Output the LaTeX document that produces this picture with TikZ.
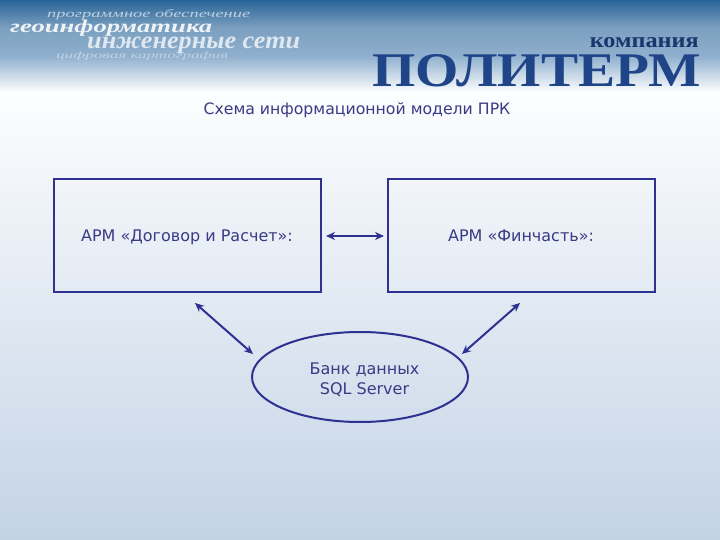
\documentclass[tikz,border=0pt]{standalone}
\usepackage{fontspec}
\usepackage{graphicx}
\setmainfont{DejaVu Sans}
\newfontfamily\logoserif{Liberation Serif}
\usetikzlibrary{arrows.meta,shapes.geometric}
\definecolor{ink}{HTML}{2E3192}
\definecolor{txt}{HTML}{3A3A85}
\definecolor{logo}{HTML}{1F4488}
\definecolor{bluetop}{HTML}{2A6599}
\definecolor{bluemid}{HTML}{8FB0CE}
\definecolor{paleend}{HTML}{C3D3E6}
\tikzset{
  boxx/.style={draw=ink,line width=2pt,minimum width=267pt,minimum height=113pt,inner sep=0pt},
  oval/.style={ellipse,draw=ink,line width=2pt,minimum width=216pt,minimum height=90pt,inner sep=0pt},
  lab/.style={text=txt,font=\fontsize{16pt}{19pt}\selectfont,inner sep=0pt,anchor=base},
  link/.style={draw=ink,line width=2pt,{Stealth[length=9pt,width=8pt]}-{Stealth[length=9pt,width=8pt]}},
  slog/.style={inner sep=0pt,anchor=base west,font=\logoserif\itshape}
}
\begin{document}
\begin{tikzpicture}[x=1pt,y=-1pt]
\useasboundingbox (0,0) rectangle (720,540);
% background
\fill[top color=bluetop,bottom color=bluemid,middle color=bluetop!62!white] (0,0) rectangle (720,56);
\fill[top color=bluemid,bottom color=white!96!paleend] (0,56) rectangle (720,92);
\fill[top color=white!96!paleend,bottom color=paleend] (0,92) rectangle (720,540);
% header texts
\node[slog,text=white!70!bluetop] (t1) at (47,17.5) {\resizebox{203pt}{8pt}{программное обеспечение}};
\node[slog,text=white!92!bluetop] (t2) at (10,33) {\resizebox{202pt}{12.5pt}{\bfseries геоинформатика}};
\node[slog,text=white!85!bluetop] (t3) at (87,49) {\resizebox{213pt}{11.5pt}{\bfseries инженерные сети}};
\node[slog,text=white!72!bluetop] (t4) at (56,58.5) {\resizebox{172pt}{6.5pt}{цифровая картография}};
\node[inner sep=0pt,anchor=base east,text=logo!80!black,font=\logoserif\bfseries] (co) at (699,48) {\resizebox{109pt}{10pt}{компания}};
\node[inner sep=0pt,anchor=base west,text=logo,font=\logoserif\bfseries] (logoM) at (372.5,87) {\resizebox{328pt}{32pt}{ПОЛИТЕРМ}};
% title
\node[lab,font=\fontsize{15.7pt}{19pt}\selectfont] (title) at (357,115) {Схема информационной модели ПРК};
% boxes
\node[boxx] (a) at (187,235.5) {};
\node[boxx] (b) at (521.5,235.5) {};
\node[lab] (la) at (187,241) {АРМ «Договор и Расчет»:};
\node[lab] (lb) at (521,241) {АРМ «Финчасть»:};
\node[oval] (c) at (360,377) {};
\node[lab] (c1) at (364.5,374.5) {Банк данных};
\node[lab] (c2) at (364.5,394) {SQL Server};
% connectors
\coordinate (p1) at (326,236);
\coordinate (p2) at (384,236);
\coordinate (p3) at (195,303);
\coordinate (p4) at (253,354);
\coordinate (p5) at (520,303);
\coordinate (p6) at (462,354);
\draw[link] (p1) -- (p2);
\draw[link] (p3) -- (p4);
\draw[link] (p5) -- (p6);
\end{tikzpicture}
\end{document}
